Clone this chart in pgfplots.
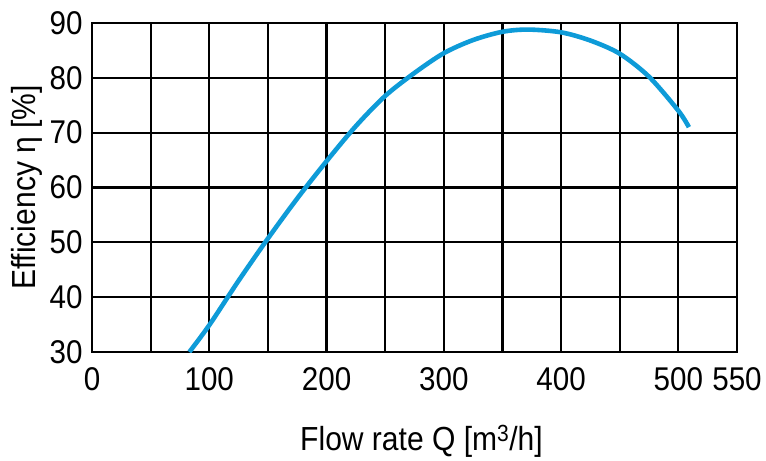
\documentclass[border=0pt]{standalone}
\usepackage{fontspec}
\setmainfont{Liberation Sans}[FakeStretch=0.9]
\usepackage{pgfplots}
\pgfplotsset{compat=1.18}
\definecolor{curveblue}{RGB}{14,155,216}
\begin{document}
\begin{tikzpicture}
\useasboundingbox (-92bp,-109bp) rectangle (674bp,352bp);
\begin{axis}[
  scale only axis,
  width=645bp, height=329bp,
  xmin=0, xmax=550, ymin=30, ymax=90,
  xtick={0,50,...,550},
  xticklabels={0,,100,,200,,300,,400,,500,550},
  ytick={30,40,...,90},
  grid=major,
  grid style={black, line width=2.2bp},
  axis line style={black, line width=2.8bp},
  major tick length=0pt,
  /pgf/number format/assume math mode=true,
  ticklabel style={font=\fontsize{33}{33}\selectfont},
  xticklabel style={yshift=-12bp},
  yticklabel style={xshift=-6bp},
  label style={font=\fontsize{33.5}{33.5}\selectfont},
  xlabel={Flow rate Q [m\textsuperscript{3}/h]},
  ylabel={Efficiency η [\%]},
  xlabel style={at={([xshift=7bp,yshift=-98bp]axis description cs:0.5,0)}, anchor=base},
  ylabel style={at={([xshift=-56bp]axis description cs:0,0.5)}, anchor=base},
]
\addplot[curveblue, line width=4.6bp, smooth] coordinates {
(83,30) (100,34.9) (125,43.0) (150,50.7) (175,58.0) (200,64.8) (225,71.2)
(250,76.7) (275,80.9) (300,84.5) (325,86.9) (350,88.4) (372,88.8)
(400,88.3) (425,86.8) (450,84.4) (475,80.2) (500,74.0) (509,71.0)
};
\end{axis}
\end{tikzpicture}
\end{document}
